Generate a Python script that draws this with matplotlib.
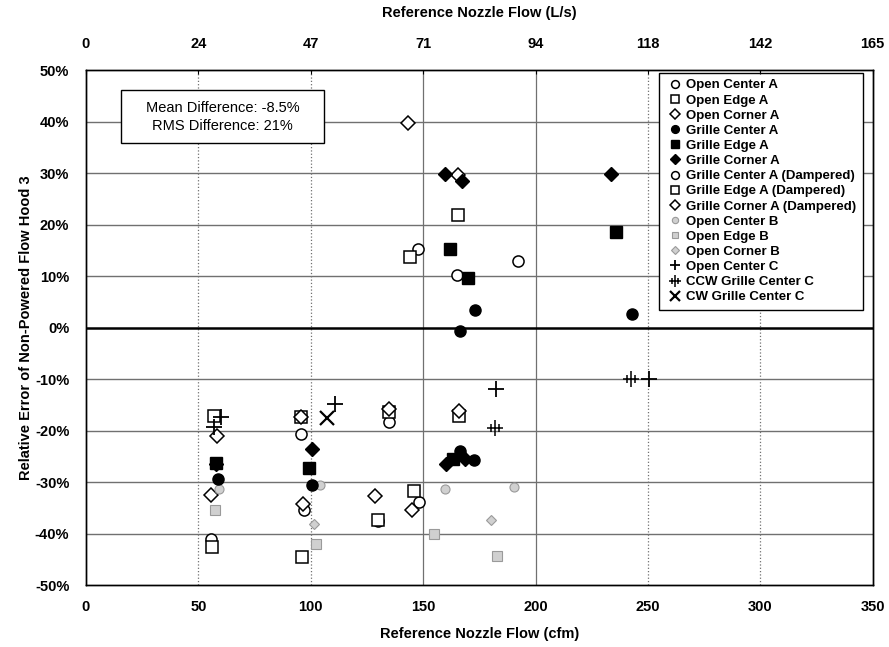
import numpy as np
import matplotlib
matplotlib.use("Agg")
import matplotlib.pyplot as plt
from matplotlib.path import Path
from matplotlib.patches import Rectangle

plt.rcParams['font.family'] = ['Liberation Sans', 'DejaVu Sans']

### data (x in cfm, y in % relative error) ###
open_center_a_x = [55.8, 97.2, 130.0, 148.0, 95.5, 134.7]
open_center_a_y = [-41.0, -35.5, -37.6, -33.9, -20.6, -18.4]
open_edge_a_x = [56.2, 96.0, 130.0, 146.0, 56.9, 95.7]
open_edge_a_y = [-42.6, -44.5, -37.4, -31.8, -17.1, -17.4]
open_corner_a_x = [55.5, 96.7, 128.6, 145.0, 58.4, 95.7]
open_corner_a_y = [-32.5, -34.2, -32.7, -35.5, -21.0, -17.3]
grille_center_a_x = [173.0, 242.9, 166.6, 58.6, 100.4, 166.4, 172.7]
grille_center_a_y = [3.4, 2.6, -0.6, -29.5, -30.5, -23.9, -25.8]
grille_edge_a_x = [161.8, 169.9, 235.7, 57.9, 99.4, 163.4]
grille_edge_a_y = [15.3, 9.7, 18.5, -26.3, -27.2, -25.5]
grille_corner_a_x = [159.6, 167.4, 233.5, 57.9, 100.5, 160.0, 168.6]
grille_corner_a_y = [29.8, 28.5, 29.8, -26.5, -23.5, -26.5, -25.5]
grille_center_ad_x = [147.9, 192.2, 165.2]
grille_center_ad_y = [15.2, 13.0, 10.2]
grille_edge_ad_x = [165.3, 144.2, 135.0, 166.0]
grille_edge_ad_y = [21.9, 13.6, -16.5, -17.2]
grille_corner_ad_x = [143.2, 165.3, 135.0, 166.0]
grille_corner_ad_y = [39.7, 29.7, -15.8, -16.2]
open_center_b_x = [59.0, 104.0, 159.6, 190.6]
open_center_b_y = [-31.3, -30.6, -31.4, -30.9]
open_edge_b_x = [57.5, 102.5, 183.0, 154.7]
open_edge_b_y = [-35.5, -42.0, -44.4, -40.0]
open_corner_b_x = [101.6, 180.0]
open_corner_b_y = [-38.1, -37.4]
open_center_c_x = [59.9, 57.0, 111.0, 182.2, 250.5]
open_center_c_y = [-17.4, -19.3, -14.8, -12.0, -10.0]
ccw_grille_c_x = [182.0, 242.4]
ccw_grille_c_y = [-19.6, -10.0]
cw_grille_c_x = [107.3]
cw_grille_c_y = [-17.6]

x_ticks = [0, 50, 100, 150, 200, 250, 300, 350]
top_tick_labels = ['0', '24', '47', '71', '94', '118', '142', '165']
y_ticks = [-50, -40, -30, -20, -10, 0, 10, 20, 30, 40, 50]

mean_diff = -8.5
rms_diff = 21

### hash-plus marker for the CCW series
hash_plus = Path(
    [(-1, 0), (1, 0), (0, -1), (0, 1),
     (-0.45, -0.45), (-0.45, 0.45), (0.45, -0.45), (0.45, 0.45)],
    [Path.MOVETO, Path.LINETO] * 4)

fig = plt.figure(figsize=(8.89, 6.47), dpi=100)
ax = fig.add_axes([0.0967, 0.0958, 0.885, 0.796])

ax.set_xlim(0, 350)
ax.set_ylim(-50, 50)

# grid
for xv in x_ticks[1:-1]:
    ls = '-' if xv in (150, 200) else ':'
    ax.axvline(xv, color='#707070', lw=0.9, ls=ls, zorder=1)
for yv in y_ticks[1:-1]:
    if yv == 0:
        ax.axhline(0, color='black', lw=1.8, zorder=1)
    else:
        ax.axhline(yv, color='#707070', lw=1.0, zorder=1)

ms = 8
open_kw = dict(ls='none', mfc='white', mec='black', mew=1.1, zorder=3)
fill_kw = dict(ls='none', color='black', zorder=4)
gray_kw = dict(ls='none', mfc='#d0d0d0', mec='#9a9a9a', mew=0.8, zorder=3)

ax.plot(open_center_a_x, open_center_a_y, 'o', ms=ms, label='Open Center A', **open_kw)
ax.plot(open_edge_a_x, open_edge_a_y, 's', ms=ms, label='Open Edge A', **open_kw)
ax.plot(open_corner_a_x, open_corner_a_y, 'D', ms=7, label='Open Corner A', **open_kw)
ax.plot(grille_center_a_x, grille_center_a_y, 'o', ms=ms, label='Grille Center A', **fill_kw)
ax.plot(grille_edge_a_x, grille_edge_a_y, 's', ms=ms, label='Grille Edge A', **fill_kw)
ax.plot(grille_corner_a_x, grille_corner_a_y, 'D', ms=7, label='Grille Corner A', **fill_kw)
ax.plot(grille_center_ad_x, grille_center_ad_y, 'o', ms=ms, label='Grille Center A (Dampered)', **open_kw)
ax.plot(grille_edge_ad_x, grille_edge_ad_y, 's', ms=ms, label='Grille Edge A (Dampered)', **open_kw)
ax.plot(grille_corner_ad_x, grille_corner_ad_y, 'D', ms=7, label='Grille Corner A (Dampered)', **open_kw)
ax.plot(open_center_b_x, open_center_b_y, 'o', ms=6.5, label='Open Center B', **gray_kw)
ax.plot(open_edge_b_x, open_edge_b_y, 's', ms=6.5, label='Open Edge B', **gray_kw)
ax.plot(open_corner_b_x, open_corner_b_y, 'D', ms=5.5, label='Open Corner B', **gray_kw)
ax.plot(open_center_c_x, open_center_c_y, '+', ms=11, mew=1.3, color='black', ls='none',
        label='Open Center C', zorder=5)
ax.plot(ccw_grille_c_x, ccw_grille_c_y, marker=hash_plus, ms=12, mew=1.1, color='black', ls='none',
        label='CCW Grille Center C', zorder=5)
ax.plot(cw_grille_c_x, cw_grille_c_y, 'x', ms=10, mew=1.6, color='black', ls='none',
        label='CW Grille Center C', zorder=5)

# axes and ticks
ax.set_xticks(x_ticks)
ax.set_yticks(y_ticks)
ax.set_yticklabels([f'{v}%' for v in y_ticks])
ax.tick_params(axis='both', length=0, labelsize=10.5)
ax.tick_params(axis='x', pad=11)
ax.tick_params(axis='y', pad=12)
for lbl in ax.get_xticklabels() + ax.get_yticklabels():
    lbl.set_fontweight('bold')
ax.set_xlabel('Reference Nozzle Flow (cfm)', fontsize=10.5, fontweight='bold', labelpad=9)
ax.set_ylabel('Relative Error of Non-Powered Flow Hood 3', fontsize=10.5, fontweight='bold', labelpad=1)

top = ax.twiny()
top.set_xlim(ax.get_xlim())
top.set_xticks(x_ticks)
top.set_xticklabels(top_tick_labels, fontweight='bold')
top.tick_params(axis='x', length=3, direction='in', labelsize=10.5, pad=14)
top.set_xlabel('Reference Nozzle Flow (L/s)', fontsize=10.5, fontweight='bold', labelpad=14)

for a in (ax, top):
    for s in a.spines.values():
        s.set_color('black')
        s.set_linewidth(1.0)

# stats box
ax.add_patch(Rectangle((0.0445, 0.858), 0.258, 0.103, transform=ax.transAxes,
                       facecolor='white', edgecolor='black', lw=1.0, zorder=6))
ax.text(0.1735, 0.9095, f'Mean Difference: {mean_diff}%\nRMS Difference: {rms_diff}%',
        transform=ax.transAxes, ha='center', va='center', fontsize=10.5,
        linespacing=1.35, zorder=7)

leg = ax.legend(loc='upper right', bbox_to_anchor=(0.987, 0.995), frameon=True, fancybox=False,
                fontsize=9.5, markerscale=0.7, handlelength=1.4, handletextpad=0.1,
                labelspacing=0.22, borderpad=0.5, borderaxespad=0)
leg.get_frame().set_edgecolor('black')
leg.get_frame().set_linewidth(1.0)
leg.get_frame().set_alpha(1)
for t in leg.get_texts():
    t.set_fontweight('bold')
leg.set_zorder(8)

fig.savefig('out.png', dpi=100)
